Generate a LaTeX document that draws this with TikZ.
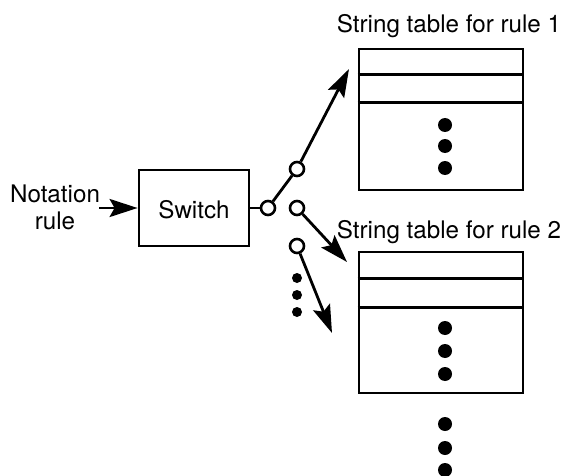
\documentclass[tikz,border=0pt]{standalone}
\usepackage{fontspec}
\setmainfont{TeX Gyre Heros}
\usetikzlibrary{arrows.meta}
\begin{document}
\begin{tikzpicture}[x=1pt,y=-1pt,
  line width=2.8pt,
  lbl/.style={font=\fontsize{24.2}{29}\selectfont, inner sep=0pt, anchor=base},
  arr/.style={-{Stealth[length=28pt,width=18pt,inset=5pt]}},
  port/.style={circle, draw, fill=white, minimum size=14pt, inner sep=0pt, line width=2.6pt},
  tbl/.style={draw, minimum width=164pt, minimum height=141pt, inner sep=0pt, line width=2.6pt},
  bigdot/.style={circle, fill=black, minimum size=14pt, inner sep=0pt},
  smalldot/.style={circle, fill=black, minimum size=10pt, inner sep=0pt}]
\useasboundingbox (0,0) rectangle (562,476);
% input
\node[lbl] (nl1) at (55,202) {Notation};
\node[lbl] (nl2) at (55,229) {rule};
\coordinate (nin) at (99,208);
\node[draw, minimum width=110pt, minimum height=76pt, inner sep=0pt] (sw) at (194,208) {};
\node[lbl] (swt) at (194,218) {Switch};
\draw[arr] (nin) -- (sw.west);
% switch contacts
\node[port] (p0) at (268,208) {};
\node[port] (p1) at (297,169) {};
\node[port] (p2) at (297,208) {};
\node[port] (p3) at (297,246) {};
\coordinate (tip1) at (349,69);
\coordinate (tip2) at (347,262);
\coordinate (tip3) at (332,333);
\draw (sw.east) -- (p0);
\draw (p0) -- (p1);
\draw[arr] (p1) -- (tip1);
\draw[arr] (p2) -- (tip2);
\draw[arr] (p3) -- (tip3);
\node[smalldot] (sd1) at (297,278) {};
\node[smalldot] (sd2) at (297,295) {};
\node[smalldot] (sd3) at (297,312) {};
% tables
\node[lbl] (tt1) at (449,33) {String table for rule 1};
\node[tbl] (t1) at (441,119.5) {};
\draw ([yshift=-27pt]t1.north west) -- ([yshift=-27pt]t1.north east);
\draw ([yshift=-55pt]t1.north west) -- ([yshift=-55pt]t1.north east);
\node[bigdot] (d11) at (445,125) {};
\node[bigdot] (d12) at (445,146) {};
\node[bigdot] (d13) at (445,168) {};
\node[lbl] (tt2) at (449,238) {String table for rule 2};
\node[tbl] (t2) at (441,322.5) {};
\draw ([yshift=-28pt]t2.north west) -- ([yshift=-28pt]t2.north east);
\draw ([yshift=-57pt]t2.north west) -- ([yshift=-57pt]t2.north east);
\node[bigdot] (d21) at (445,328) {};
\node[bigdot] (d22) at (445,351) {};
\node[bigdot] (d23) at (445,374) {};
\node[bigdot] (d31) at (445,424) {};
\node[bigdot] (d32) at (445,448) {};
\node[bigdot] (d33) at (445,470) {};
\end{tikzpicture}
\end{document}
